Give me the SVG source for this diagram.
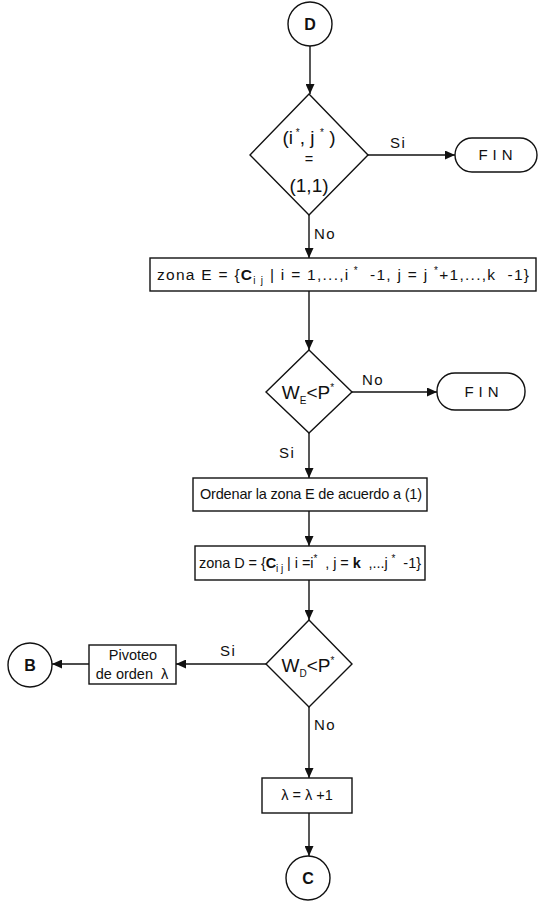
<svg xmlns="http://www.w3.org/2000/svg" width="543" height="902" viewBox="0 0 543 902">
<style>
.s{fill:#fff;stroke:#111;stroke-width:1.4}
.c{fill:none;stroke:#111;stroke-width:1.4}
text{font-family:"Liberation Sans",Arial,sans-serif;fill:#111;white-space:pre}
.t{font-size:14.5px;text-anchor:middle}
.l{font-size:15px;letter-spacing:1.5px}
.fin{font-size:15px;letter-spacing:5px;text-anchor:middle}
.big{font-size:16px;font-weight:bold;text-anchor:middle}
.sup{font-size:10px}
.d{font-size:19px;text-anchor:middle}
</style>
<defs>
<marker id="ah" markerWidth="10" markerHeight="9" refX="10" refY="4.5" orient="auto" markerUnits="userSpaceOnUse">
<path d="M0,0 L10,4.5 L0,9 z" fill="#111"/>
</marker>
</defs>
<g id="connectors" class="c">
<path d="M310,46 L310,94" marker-end="url(#ah)"/>
<path d="M368,155 L455,155" marker-end="url(#ah)"/>
<path d="M309,215 L309,258" marker-end="url(#ah)"/>
<path d="M309,291 L309,350" marker-end="url(#ah)"/>
<path d="M352,392 L437,392" marker-end="url(#ah)"/>
<path d="M309,433 L309,478" marker-end="url(#ah)"/>
<path d="M309,511 L309,546" marker-end="url(#ah)"/>
<path d="M309,580 L309,620" marker-end="url(#ah)"/>
<path d="M266,664 L176,664" marker-end="url(#ah)"/>
<path d="M89,664 L52,664" marker-end="url(#ah)"/>
<path d="M309,707 L309,778" marker-end="url(#ah)"/>
<path d="M309,813 L309,856" marker-end="url(#ah)"/>
</g>
<g id="labels">
<text class="l" x="390" y="148">Si</text>
<text class="l" x="314" y="239">No</text>
<text class="l" x="362" y="385">No</text>
<text class="l" x="279" y="458">Si</text>
<text class="l" x="220" y="656">Si</text>
<text class="l" x="314" y="730">No</text>
</g>
<g id="D"><circle class="s" cx="310" cy="24" r="22"/><text class="big" x="310" y="30">D</text></g>
<g id="dec1"><polygon class="s" points="309,94 368,155 309,215 250,155"/>
<text class="d" x="309" y="144">(i<tspan class="sup" dy="-8"> *</tspan><tspan dy="8">, j</tspan><tspan class="sup" dy="-8">  *</tspan><tspan dy="8"> )</tspan></text>
<text class="t" x="309" y="164">=</text>
<text class="d" x="309" y="192">(1,1)</text></g>
<g id="fin1"><rect class="s" x="455" y="138" width="82" height="34" rx="17"/><text class="fin" x="498" y="160">FIN</text></g>
<g id="zonaE"><rect class="s" x="150" y="258" width="386" height="33"/>
<text class="t" style="font-size:15.5px" x="343" y="280" textLength="372" lengthAdjust="spacing">zona E = {<tspan font-weight="bold">C</tspan><tspan class="sup" dy="4">i j</tspan><tspan dy="-4"> | i = 1,...,i</tspan><tspan class="sup" dy="-6"> *</tspan><tspan dy="6">  -1, j = j </tspan><tspan class="sup" dy="-6">*</tspan><tspan dy="6">+1,...,k  -1}</tspan></text></g>
<g id="dec2"><polygon class="s" points="309,350 352,392 309,433 266,392"/>
<text class="d" x="308" y="399">W<tspan class="sup" dy="5">E</tspan><tspan dy="-5">&lt;P</tspan><tspan class="sup" dy="-8">*</tspan></text></g>
<g id="fin2"><rect class="s" x="437" y="373" width="88" height="37" rx="18"/><text class="fin" x="484" y="397">FIN</text></g>
<g id="ordenar"><rect class="s" x="193" y="478" width="234" height="33"/>
<text class="t" x="311" y="499" textLength="222" lengthAdjust="spacing">Ordenar la zona E de acuerdo a (1)</text></g>
<g id="zonaD"><rect class="s" x="195" y="546" width="230" height="34"/>
<text class="t" x="310" y="568" textLength="222" lengthAdjust="spacing">zona D = {<tspan font-weight="bold">C</tspan><tspan class="sup" dy="4">i j</tspan><tspan dy="-4"> | i =i</tspan><tspan class="sup" dy="-6">*</tspan><tspan dy="6">  , j = </tspan><tspan font-weight="bold">k</tspan><tspan>  ,...j </tspan><tspan class="sup" dy="-6">*</tspan><tspan dy="6">  -1}</tspan></text></g>
<g id="dec3"><polygon class="s" points="309,620 352,664 309,707 266,664"/>
<text class="d" x="308" y="672">W<tspan class="sup" dy="5">D</tspan><tspan dy="-5">&lt;P</tspan><tspan class="sup" dy="-8">*</tspan></text></g>
<g id="pivoteo"><rect class="s" x="89" y="645" width="87" height="39"/>
<text class="t" x="133" y="660">Pivoteo</text><text class="t" x="132" y="679">de orden  λ</text></g>
<g id="B"><circle class="s" cx="30" cy="665" r="22"/><text class="big" x="30" y="671">B</text></g>
<g id="lambda"><rect class="s" x="262" y="778" width="90" height="35"/>
<text class="t" x="307" y="800">λ = λ +1</text></g>
<g id="C"><circle class="s" cx="308" cy="878" r="22"/><text class="big" x="308" y="884">C</text></g>
</svg>
